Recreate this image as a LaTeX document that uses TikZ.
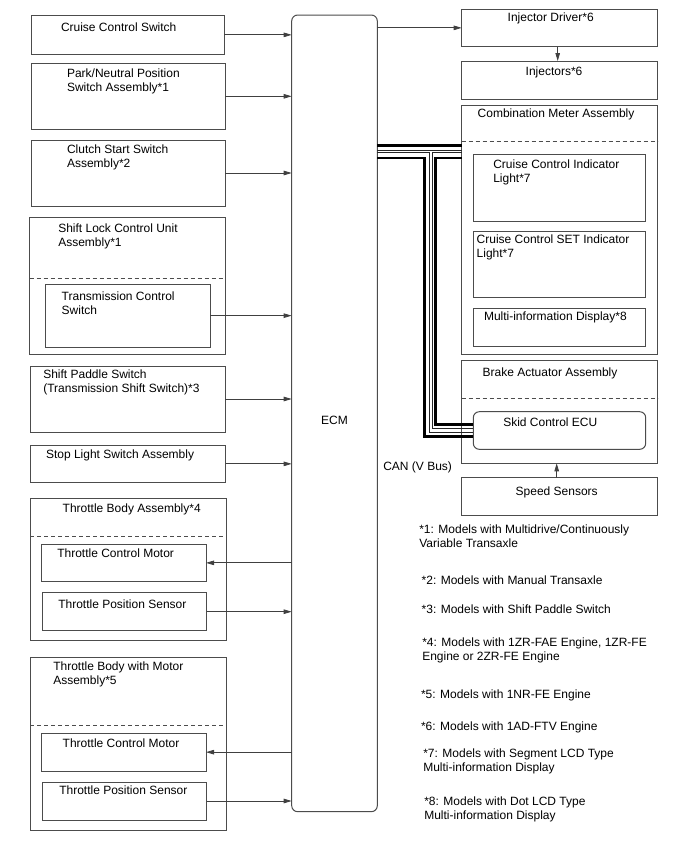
\documentclass[tikz,border=0pt]{standalone}
\usepackage{fontspec}
\setmainfont{Liberation Sans}
\usetikzlibrary{arrows.meta,fit}
\newcommand\mystrut{\rule{0pt}{10pt}}
\begin{document}
\begin{tikzpicture}[x=1pt,y=-1pt,
 box/.style={draw=black!70, line width=1pt, inner sep=0pt, outer sep=0pt},
 lbl/.style={anchor=north west, inner sep=0pt, outer sep=0pt, align=left, font=\fontsize{12}{14}\selectfont},
 arr/.style={draw=black!75, line width=0.8pt, -{Triangle[length=8pt,width=4.5pt]}},
 dashsep/.style={draw=black!70, line width=1pt, dash pattern=on 4pt off 3pt},
 canthick/.style={draw=black, line width=2.7pt},
 canthin/.style={draw=black!85, line width=0.8pt}]
\useasboundingbox[fill=white] (0,0) rectangle (688,852);

% ECM
\node[box, rounded corners=6pt, fit={(291.7,15) (377.3,811.7)}] (ecm) {};
\node[font=\fontsize{12}{14}\selectfont, inner sep=0pt] (ecm-t) at (334.5,420) {ECM};

% left column
\node[box, fit={(31,15.7) (224,54)}] (ccs) {};
\node[lbl] (ccs-t) at (61,21.2) {\mystrut Cruise Control Switch};

\node[box, fit={(31,63.3) (225,129.3)}] (pnp) {};
\node[lbl] (pnp-t) at (67,67.2) {\mystrut Park/Neutral Position\\Switch Assembly*1};

\node[box, fit={(31,140) (225,206)}] (css) {};
\node[lbl] (css-t) at (67,143.5) {\mystrut Clutch Start Switch\\Assembly*2};

\node[box, fit={(29.7,217.3) (225.3,354.3)}] (slcu) {};
\node[lbl] (slcu-t) at (58.3,222.8) {\mystrut Shift Lock Control Unit\\Assembly*1};
\coordinate (d1) at (0,278.3);
\draw[dashsep] (slcu.west |- d1) -- (slcu.east |- d1);
\node[box, fit={(45,284) (210,347.3)}] (tcs) {};
\node[lbl] (tcs-t) at (61.7,290.2) {\mystrut Transmission Control\\Switch};

\node[box, fit={(30,366) (225,432)}] (sps) {};
\node[lbl] (sps-t) at (43.3,368.8) {\mystrut Shift Paddle Switch\\(Transmission Shift Switch)*3};

\node[box, fit={(30,445) (225.7,482.7)}] (sls) {};
\node[lbl] (sls-t) at (46,448.5) {\mystrut Stop Light Switch Assembly};

\node[box, fit={(30,498.3) (226.7,640.7)}] (tba) {};
\node[lbl] (tba-t) at (62.7,502.8) {\mystrut Throttle Body Assembly*4};
\coordinate (d2) at (0,536);
\draw[dashsep] (tba.west |- d2) -- (tba.east |- d2);
\node[box, fit={(41.3,544) (206,581.7)}] (tcm1) {};
\node[lbl] (tcm1-t) at (57.3,547.8) {\mystrut Throttle Control Motor};
\node[box, fit={(42.3,592.7) (206.7,630.7)}] (tps1) {};
\node[lbl] (tps1-t) at (58.3,598.5) {\mystrut Throttle Position Sensor};

\node[box, fit={(30,657.7) (226,830)}] (tbm) {};
\node[lbl] (tbm-t) at (53.3,660.5) {\mystrut Throttle Body with Motor\\Assembly*5};
\coordinate (d3) at (0,725.7);
\draw[dashsep] (tbm.west |- d3) -- (tbm.east |- d3);
\node[box, fit={(41.3,733.3) (206,771)}] (tcm2) {};
\node[lbl] (tcm2-t) at (62.7,737.2) {\mystrut Throttle Control Motor};
\node[box, fit={(42.3,782) (206.7,820)}] (tps2) {};
\node[lbl] (tps2-t) at (59.3,784.2) {\mystrut Throttle Position Sensor};

% left arrows
\draw[arr] (ccs.east) -- (ccs.east -| ecm.west);
\draw[arr] (pnp.east) -- (pnp.east -| ecm.west);
\draw[arr] (css.east) -- (css.east -| ecm.west);
\draw[arr] (tcs.east) -- (tcs.east -| ecm.west);
\draw[arr] (sps.east) -- (sps.east -| ecm.west);
\draw[arr] (sls.east) -- (sls.east -| ecm.west);
\draw[arr] (tcm1.east -| ecm.west) -- (tcm1.east);
\draw[arr] (tps1.east) -- (tps1.east -| ecm.west);
\draw[arr] (tcm2.east -| ecm.west) -- (tcm2.east);
\draw[arr] (tps2.east) -- (tps2.east -| ecm.west);

% right column
\node[box, fit={(461.7,9) (657.7,46.7)}] (injd) {};
\node[lbl] (injd-t) at (507.7,11.2) {\mystrut Injector Driver*6};
\node[box, fit={(461.7,61) (657.7,99)}] (inj) {};
\node[lbl] (inj-t) at (525.7,65.5) {\mystrut Injectors*6};
\draw[arr] (ecm.east |- injd) -- (injd.west);
\draw[arr] ([xshift=-2pt]injd.south) -- ([xshift=-2pt]inj.north);

\node[box, fit={(461.7,105.3) (657.7,354.3)}] (cm) {};
\node[lbl] (cm-t) at (477.7,107.8) {\mystrut Combination Meter Assembly};
\coordinate (d4) at (0,141.7);
\draw[dashsep] (cm.west |- d4) -- (cm.east |- d4);
\node[box, fit={(473.3,154.3) (645.7,221)}] (ccil) {};
\node[lbl] (ccil-t) at (493.3,158.5) {\mystrut Cruise Control Indicator\\Light*7};
\node[box, fit={(473.3,231.7) (645.7,297.7)}] (cset) {};
\node[lbl] (cset-t) at (476.7,233.5) {\mystrut Cruise Control SET Indicator\\Light*7};
\node[box, fit={(473.3,308.3) (645.7,346.7)}] (mid) {};
\node[lbl] (mid-t) at (484,310.5) {\mystrut Multi-information Display*8};

\node[box, fit={(461.7,360) (657.7,463.3)}] (baa) {};
\node[lbl] (baa-t) at (482.7,366.2) {\mystrut Brake Actuator Assembly};
\coordinate (d5) at (0,398.3);
\draw[dashsep] (baa.west |- d5) -- (baa.east |- d5);
\node[box, rounded corners=6pt, fit={(473.3,411.7) (645.7,449.3)}] (sce) {};
\node[lbl] (sce-t) at (503.3,416.2) {\mystrut Skid Control ECU};

\node[box, fit={(461.7,477.7) (657.7,515)}] (ss) {};
\node[lbl] (ss-t) at (515.7,485.2) {\mystrut Speed Sensors};
\draw[arr] ([xshift=-3pt]ss.north) -- ([xshift=-3pt]baa.south);

% CAN bus
\coordinate (hA) at (440,145.7);
\coordinate (hB) at (440,150);
\coordinate (tA) at (424.5,158);   \coordinate (kA) at (424.5,436.5);
\coordinate (tB) at (429.3,152.3); \coordinate (kB) at (429.3,432);
\coordinate (tC) at (432,152.3);   \coordinate (kC) at (432,428.5);
\coordinate (tD) at (435.5,158);   \coordinate (kD) at (435.5,424.7);
\draw[canthick] (ecm.east |- hA) -- (cm.west |- hA);
\draw[canthin] (ecm.east |- hB) -- (cm.west |- hB);
\draw[canthick] (ecm.east |- tA) -- (tA) -- (kA) -- (sce.west |- kA);
\draw[canthin] (ecm.east |- tB) -- (tB) -- (kB) -- (sce.west |- kB);
\draw[canthin] (cm.west |- tC) -- (tC) -- (kC) -- (sce.west |- kC);
\draw[canthick] (cm.west |- tD) -- (tD) -- (kD) -- (sce.west |- kD);
\node[lbl] (can-t) at (383.3,460.5) {\mystrut CAN (V Bus)};

% notes
\node[lbl] (n1) at (419.3,523.8) {\mystrut *1: Models with Multidrive/Continuously\\Variable Transaxle};
\node[lbl] (n2) at (421.7,574.5) {\mystrut *2: Models with Manual Transaxle};
\node[lbl] (n3) at (421.7,603.8) {\mystrut *3: Models with Shift Paddle Switch};
\node[lbl] (n4) at (422.3,636.8) {\mystrut *4: Models with 1ZR-FAE Engine, 1ZR-FE\\Engine or 2ZR-FE Engine};
\node[lbl] (n5) at (421,688.5) {\mystrut *5: Models with 1NR-FE Engine};
\node[lbl] (n6) at (421,720.5) {\mystrut *6: Models with 1AD-FTV Engine};
\node[lbl] (n7) at (423.3,747.8) {\mystrut *7: Models with Segment LCD Type\\Multi-information Display};
\node[lbl] (n8) at (424.3,795.5) {\mystrut *8: Models with Dot LCD Type\\Multi-information Display};
\end{tikzpicture}
\end{document}
